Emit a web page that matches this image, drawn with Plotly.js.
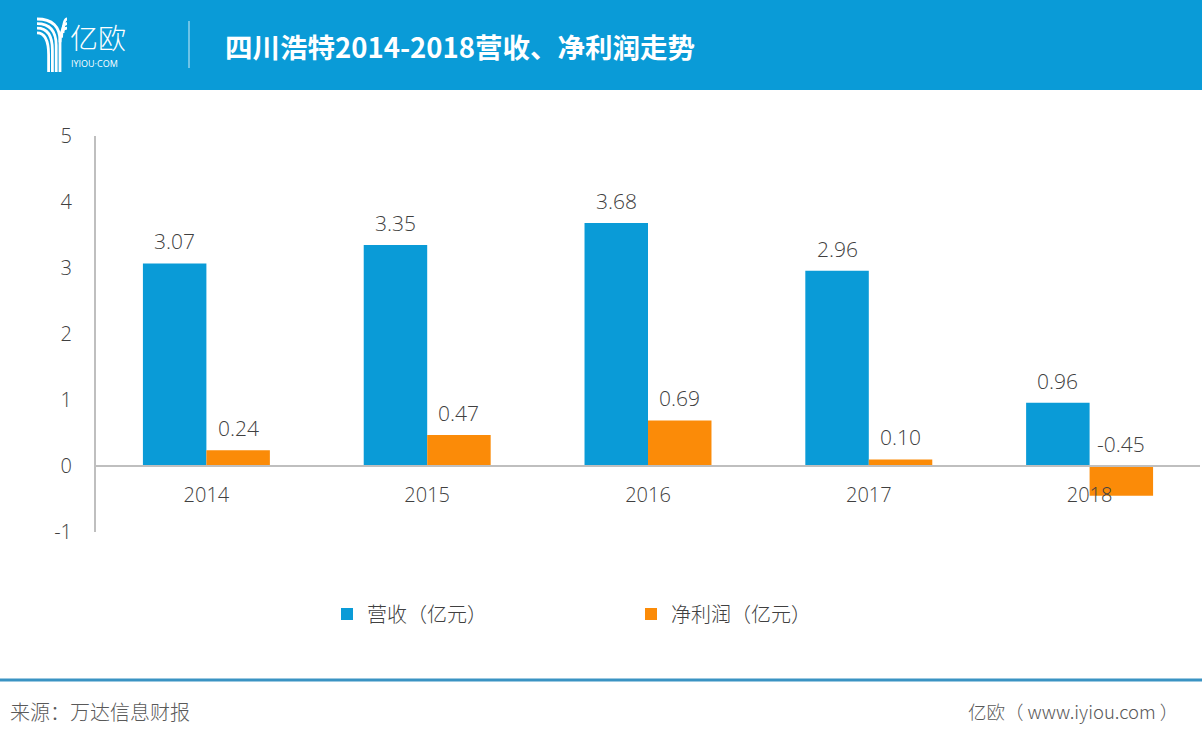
<!DOCTYPE html>
<html>
<head>
<meta charset="utf-8">
<script src="https://cdn.plot.ly/plotly-3.0.1.min.js"></script>
<style>
  html, body { margin: 0; padding: 0; background: #ffffff; }
  #chart { width: 1202px; height: 740px; }
</style>
</head>
<body>
<div id="chart"></div>
<script>
// ---- data ----
const years = ['2014', '2015', '2016', '2017', '2018'];
const revenue = [3.07, 3.35, 3.68, 2.96, 0.96];
const netProfit = [0.24, 0.47, 0.69, 0.10, -0.45];
const seriesNames = ['营收（亿元）', '净利润（亿元）'];
const yTicks = [-1, 0, 1, 2, 3, 4, 5];
const titleText = '四川浩特2014-2018营收、净利润走势';
const sourceText = '来源：万达信息财报';
const siteText = '亿欧（ www.iyiou.com ）';

// ---- layout geometry ----
const W = 1202, H = 740;
const M = { l: 96, r: 2, t: 136, b: 208 };
const PW = W - M.l - M.r, PH = H - M.t - M.b;
const px = v => (v - M.l) / PW;
const py = v => (H - M.b - v) / PH;
const yRange = [-1, 5];
const bargap = 0.425;
const barOffset = (1 - bargap) / 4;

const FONT = '"Open Sans", "Noto Sans CJK SC", sans-serif';
const CJK = '"Noto Sans CJK SC", "Open Sans", sans-serif';
const BLUE = '#0a9bd7';
const ORANGE = '#fb8b08';
const TXT = '#404040';

const traces = [
  { type: 'bar', name: seriesNames[0], x: years, y: revenue,
    marker: { color: BLUE }, hoverinfo: 'none' },
  { type: 'bar', name: seriesNames[1], x: years, y: netProfit,
    marker: { color: ORANGE }, hoverinfo: 'none' }
];

const annotations = [];
years.forEach((yr, i) => {
  [[revenue, -barOffset], [netProfit, barOffset]].forEach(([arr, off]) => {
    annotations.push({
      xref: 'x', yref: 'y', x: i + off, y: Math.max(arr[i], 0),
      text: arr[i].toFixed(2), showarrow: false,
      xanchor: 'center', yanchor: 'bottom', yshift: 6,
      font: { family: FONT, size: 21, color: TXT, weight: 300 }
    });
  });
});

// header title & logo text, footer texts
annotations.push(
  { xref: 'paper', yref: 'paper', x: px(223), y: py(46), xanchor: 'left', yanchor: 'middle',
    text: '<b>' + titleText + '</b>', showarrow: false,
    font: { family: CJK, size: 27.5, color: '#ffffff', weight: 700 } },
  { xref: 'paper', yref: 'paper', x: px(68), y: py(37), xanchor: 'left', yanchor: 'middle',
    text: '亿欧', showarrow: false,
    font: { family: CJK, size: 28, color: '#ffffff', weight: 300 } },
  { xref: 'paper', yref: 'paper', x: px(69), y: py(63), xanchor: 'left', yanchor: 'middle',
    text: 'IYIOU·COM', showarrow: false,
    font: { family: FONT, size: 9, color: '#ffffff' } },
  { xref: 'paper', yref: 'paper', x: px(8), y: py(711), xanchor: 'left', yanchor: 'middle',
    text: sourceText, showarrow: false,
    font: { family: CJK, size: 20, color: '#595959', weight: 300 } },
  { xref: 'paper', yref: 'paper', x: px(1180), y: py(711), xanchor: 'right', yanchor: 'middle',
    text: siteText, showarrow: false,
    font: { family: CJK, size: 18.5, color: '#595959', weight: 300 } }
);

// logo paths (in pixel coords, converted to paper)
function pth(points) {
  return points.map(p => {
    const c = p[0];
    const coords = [];
    for (let k = 1; k < p.length; k += 2) coords.push(px(p[k]).toFixed(5) + ',' + py(p[k + 1]).toFixed(5));
    return c + ' ' + coords.join(' ');
  }).join(' ');
}
const shapes = [
  { type: 'rect', xref: 'paper', yref: 'paper', x0: px(0), x1: px(W), y0: py(90), y1: py(0),
    fillcolor: BLUE, line: { width: 0 }, layer: 'below' },
  { type: 'line', xref: 'paper', yref: 'paper', x0: px(189), x1: px(189), y0: py(21), y1: py(68),
    line: { color: 'rgba(255,255,255,0.8)', width: 1 } },
  { type: 'line', xref: 'paper', yref: 'paper', x0: px(0), x1: px(W), y0: py(680), y1: py(680),
    line: { color: '#3a93c3', width: 3 } }
];
for (let i = 0; i < 4; i++) {
  const y0 = 19 + 4.6 * i;
  const xs = 60 - 3.8 * i;
  shapes.push({ type: 'path', xref: 'paper', yref: 'paper',
    path: pth([['M', 37, y0], ['Q', xs, y0, xs, y0 + 22], ['L', xs, 72]]),
    line: { color: '#ffffff', width: 2.8 } });
}
for (let j = 0; j < 3; j++) {
  const y0 = 19 + 4.6 * j;
  shapes.push({ type: 'path', xref: 'paper', yref: 'paper',
    path: pth([['M', 67, y0], ['Q', 63.5 - 1.5 * j, y0, 63 - 1.5 * j, y0 + 14]]),
    line: { color: '#ffffff', width: 2.8 } });
}

const layout = {
  width: W, height: H,
  margin: M,
  paper_bgcolor: '#ffffff', plot_bgcolor: '#ffffff',
  barmode: 'group', bargap: bargap, bargroupgap: 0,
  showlegend: true,
  legend: {
    orientation: 'h', x: px(327), y: py(614), xanchor: 'left', yanchor: 'middle',
    entrywidth: 259, entrywidthmode: 'pixels', itemwidth: 30,
    font: { family: CJK, size: 20, color: TXT, weight: 300 },
    bgcolor: 'rgba(0,0,0,0)', traceorder: 'normal'
  },
  xaxis: {
    type: 'category', anchor: 'free',
    position: (0 - yRange[0]) / (yRange[1] - yRange[0]),
    showline: true, linecolor: '#bfbfbf', linewidth: 2,
    showgrid: false, ticks: '', ticklabelstandoff: 11,
    tickfont: { family: FONT, size: 20, color: TXT, weight: 300 },
    fixedrange: true
  },
  yaxis: {
    range: yRange, tickvals: yTicks, ticktext: yTicks.map(String),
    showline: true, linecolor: '#bfbfbf', linewidth: 2,
    showgrid: false, zeroline: false, ticks: '', ticklabelstandoff: 18,
    tickfont: { family: FONT, size: 20, color: TXT, weight: 300 },
    fixedrange: true
  },
  annotations: annotations,
  shapes: shapes
};

Plotly.newPlot('chart', traces, layout, { displayModeBar: false, staticPlot: true });
</script>
</body>
</html>
